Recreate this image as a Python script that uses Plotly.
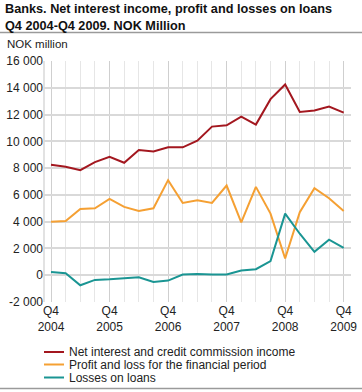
import plotly.graph_objects as go

quarters = ["Q4 2004", "Q1 2005", "Q2 2005", "Q3 2005", "Q4 2005",
            "Q1 2006", "Q2 2006", "Q3 2006", "Q4 2006",
            "Q1 2007", "Q2 2007", "Q3 2007", "Q4 2007",
            "Q1 2008", "Q2 2008", "Q3 2008", "Q4 2008",
            "Q1 2009", "Q2 2009", "Q3 2009", "Q4 2009"]

net_interest = [8250, 8100, 7850, 8450, 8850, 8400, 9350, 9250, 9550, 9550,
                10050, 11100, 11200, 11850, 11250, 13150, 14250, 12200, 12300, 12600, 12150]
profit_loss = [4000, 4050, 4950, 5000, 5700, 5100, 4800, 5000, 7100, 5400,
               5600, 5400, 6700, 3950, 6600, 4600, 1250, 4700, 6500, 5750, 4800]
loan_losses = [250, 150, -750, -350, -300, -250, -150, -500, -400, 50,
               100, 50, 50, 350, 450, 1050, 4600, 3100, 1750, 2650, 2050]

series_names = ["Net interest and credit commission income",
                "Profit and loss for the financial period",
                "Losses on loans"]
colors = ["#a3171f", "#f5a033", "#1a9593"]

x_tick_idx = [0, 4, 8, 12, 16, 20]
x_tick_text = ["Q4<br>2004", "Q4<br>2005", "Q4<br>2006", "Q4<br>2007", "Q4<br>2008", "Q4<br>2009"]
y_tick_vals = [-2000, 0, 2000, 4000, 6000, 8000, 10000, 12000, 14000, 16000]
y_tick_text = ["-2 000", "0", "2 000", "4 000", "6 000", "8 000", "10 000", "12 000", "14 000", "16 000"]

W, H = 362, 392
L, R, T, B = 44, 11, 61, 90
PW, PH = W - L - R, H - T - B

def px_x(px):
    return (px - L) / PW

def px_y(py):
    return (H - B - py) / PH

font = "Arial, Liberation Sans, sans-serif"
xidx = list(range(len(quarters)))
fig = go.Figure()
for name, vals, c in zip(series_names, [net_interest, profit_loss, loan_losses], colors):
    fig.add_trace(go.Scatter(x=xidx, y=vals, mode="lines", name=name,
                             line=dict(color=c, width=2), text=quarters,
                             hovertemplate="%{text}: %{y}<extra></extra>",
                             showlegend=False))

fig.update_layout(
    width=W, height=H,
    margin=dict(l=L, r=R, t=T, b=B, pad=0, autoexpand=False),
    paper_bgcolor="white", plot_bgcolor="white",
    font=dict(family=font, size=12, color="#222"),
    showlegend=False,
    xaxis=dict(range=[-0.48, 20.5], tickvals=x_tick_idx, ticktext=x_tick_text,
               showgrid=True, gridcolor="#cfcfcf", gridwidth=1,
               zeroline=False, showline=False, ticks="", automargin=False,
               tickfont=dict(size=12, color="#222"),
               minor=dict(dtick=1, tick0=0, showgrid=True, gridcolor="#e6e6e6", gridwidth=1)),
    yaxis=dict(range=[-2000, 16000], tickvals=y_tick_vals, ticktext=y_tick_text,
               showgrid=True, gridcolor="#d9d9d9", gridwidth=1.5,
               zeroline=False, showline=False, ticks="", automargin=False,
               tickfont=dict(size=12, color="#222")),
)

fig.add_annotation(text="<b>Banks. Net interest income, profit and losses on loans<br>Q4 2004-Q4 2009. NOK Million</b>",
                   xref="paper", yref="paper", x=px_x(3), y=px_y(0),
                   xanchor="left", yanchor="top", showarrow=False, align="left",
                   font=dict(size=12.7, color="#111", family=font))
fig.add_annotation(text="NOK million", xref="paper", yref="paper",
                   x=px_x(5), y=px_y(36), xanchor="left", yanchor="top",
                   showarrow=False, font=dict(size=11.5, color="#222", family=font))

# legend (manual, compact spacing as in the reference)
legend_y = [352, 364.5, 377.5]
for name, c, ly in zip(series_names, colors, legend_y):
    fig.add_shape(type="line", xref="paper", yref="paper", x0=px_x(44), x1=px_x(64),
                  y0=px_y(ly), y1=px_y(ly), line=dict(color=c, width=2))
    fig.add_annotation(text=name, xref="paper", yref="paper", x=px_x(67), y=px_y(ly),
                       xanchor="left", yanchor="middle", showarrow=False,
                       font=dict(size=12, color="#222", family=font))

# separator lines
fig.add_shape(type="line", xref="paper", yref="paper", x0=px_x(0), x1=px_x(W),
              y0=px_y(32.5), y1=px_y(32.5), line=dict(color="#9a9a9a", width=1.5))
fig.add_shape(type="line", xref="paper", yref="paper", x0=px_x(0), x1=px_x(W),
              y0=px_y(388.5), y1=px_y(388.5), line=dict(color="#9a9a9a", width=1.5))
# left plot border
fig.add_shape(type="line", xref="paper", yref="paper", x0=0, x1=0, y0=0, y1=1,
              line=dict(color="#d9d9d9", width=1.5))

fig.write_html("out.html", config={"displayModeBar": False},
               post_script="document.body.style.margin='0';document.body.style.padding='0';document.body.style.overflow='hidden';")
